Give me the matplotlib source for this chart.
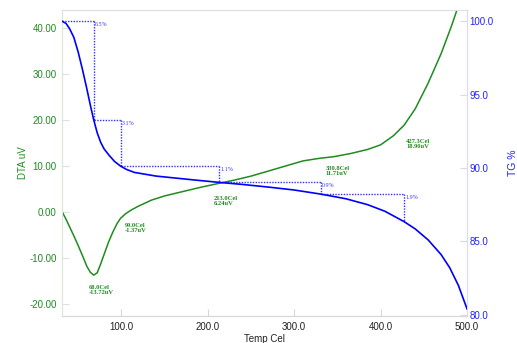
import matplotlib
matplotlib.use("Agg")
import matplotlib.pyplot as plt
import numpy as np
from matplotlib.ticker import FormatStrFormatter

# ---- data ----
dta_temp = [31.6, 36, 40, 45, 50, 55, 60, 64, 68, 72, 76, 80, 85, 90, 95, 99,
            105, 112, 120, 135, 150, 170, 190, 213, 230, 250, 270, 290, 310,
            320, 330.8, 345, 365, 385, 400, 415, 427.3, 440, 455, 470, 482,
            490, 500]
dta_uv = [0.0, -1.6, -3.2, -5.2, -7.3, -9.5, -11.8, -13.1, -13.72, -13.2,
          -11.3, -9.2, -6.6, -4.4, -2.5, -1.37, -0.35, 0.5, 1.3, 2.6, 3.5,
          4.4, 5.3, 6.24, 6.9, 7.8, 8.9, 10.0, 11.1, 11.4, 11.71, 12.0, 12.7,
          13.6, 14.6, 16.6, 18.90, 22.4, 28.0, 34.4, 40.4, 44.8, 50.5]

tg_temp = [31.6, 36, 40, 45, 50, 55, 60, 64, 68, 72, 76, 80, 86, 92, 99, 106,
           115, 125, 140, 160, 185, 213, 240, 270, 300, 330.8, 360, 385, 405,
           427.3, 440, 455, 470, 480, 490, 500]
tg_pct = [100.0, 99.85, 99.5, 98.9, 97.9, 96.7, 95.4, 94.3, 93.27, 92.4,
          91.75, 91.3, 90.85, 90.45, 90.13, 89.9, 89.7, 89.6, 89.45, 89.33,
          89.18, 89.02, 88.88, 88.7, 88.5, 88.22, 87.9, 87.5, 87.05, 86.34,
          85.85, 85.1, 84.1, 83.2, 82.0, 80.4]

peak_temp = [68.0, 99.0, 213.0, 330.8, 427.3]
peak_uv = [-13.72, -1.37, 6.24, 11.71, 18.90]
mass_loss = [6.5, 3.1, 1.1, 0.9, 1.9]

# ---- styles / positions ----
green = "#1e8c1e"
blue = "#0000ff"
label_offsets = [(-5, -15), (4, -9.5), (-5, -18), (5, -13), (2, -19)]

fig = plt.figure(figsize=(5.17, 3.43), dpi=100)
ax = fig.add_axes([0.1205, 0.0787, 0.9033 - 0.1205, 0.9708 - 0.0787])
ax2 = ax.twinx()

ax.plot(dta_temp, dta_uv, color=green, lw=1.1, zorder=3)
ax2.plot(tg_temp, tg_pct, color=blue, lw=1.2, zorder=3)

# step lines for mass loss
tg_levels = [np.interp(t, tg_temp, tg_pct) for t in peak_temp]
prev_t = tg_temp[0]
prev_level = tg_pct[0]
for t, lvl, m in zip(peak_temp, tg_levels, mass_loss):
    ax2.plot([prev_t, t], [prev_level, prev_level], color="#3030ff",
             lw=1.0, ls=(0, (1, 1)), zorder=2)
    ax2.plot([t, t], [prev_level, lvl], color="#3030ff",
             lw=1.0, ls=(0, (1, 1)), zorder=2)
    ax2.annotate(f"{m:.1f}%", (t, prev_level), xytext=(1, -1),
                 textcoords="offset pixels", ha="left", va="top",
                 fontsize=4.3, family="Liberation Serif", color="#3a3aff")
    prev_t, prev_level = t, lvl

for t, v, off in zip(peak_temp, peak_uv, label_offsets):
    ax.annotate(f"{t:.1f}Cel\n{v:.2f}uV", (t, v), xytext=off,
                textcoords="offset pixels", ha="left", va="center",
                fontsize=4.7, family="Liberation Serif", fontweight="bold",
                color=green, linespacing=1.0)

ax.set_xlim(31.6, 500)
ax.set_ylim(-22.6, 43.9)
ax2.set_ylim(79.91, 100.77)

ax.set_xticks([100, 200, 300, 400, 500])
ax.set_yticks([-20, -10, 0, 10, 20, 30, 40])
ax2.set_yticks([80, 85, 90, 95, 100])
ax.xaxis.set_major_formatter(FormatStrFormatter("%.1f"))
ax.yaxis.set_major_formatter(FormatStrFormatter("%.2f"))
ax2.yaxis.set_major_formatter(FormatStrFormatter("%.1f"))

font = "Liberation Sans"
ax.tick_params(axis="x", direction="in", length=5, width=0.8,
               color="#d8d8d8", labelsize=7, labelcolor="#222222", pad=4)
ax.tick_params(axis="y", direction="in", length=5, width=0.8,
               color="#d5e8d5", labelsize=7, labelcolor=green, pad=4)
ax2.tick_params(axis="y", direction="in", length=5, width=0.8,
                color="#d8d8f5", labelsize=7, labelcolor="#2222ff", pad=2)
for lab in ax.get_xticklabels() + ax.get_yticklabels() + ax2.get_yticklabels():
    lab.set_family(font)

for a in (ax, ax2):
    a.spines["top"].set_color("#e0e0e0")
    a.spines["bottom"].set_color("#d8d8d8")
    a.spines["left"].set_color("#dde8dd")
    a.spines["right"].set_color("#dcdcf5")

ax.set_xlabel("Temp Cel", fontsize=7, family=font, color="#222222", labelpad=2)
ax.set_ylabel("DTA uV", fontsize=7, family=font, color=green)
ax.yaxis.set_label_coords(-0.084, 0.5)
ax2.set_ylabel("TG %", fontsize=7.5, family=font, color="#2222ff", labelpad=10)

fig.savefig("out.png", dpi=100)
